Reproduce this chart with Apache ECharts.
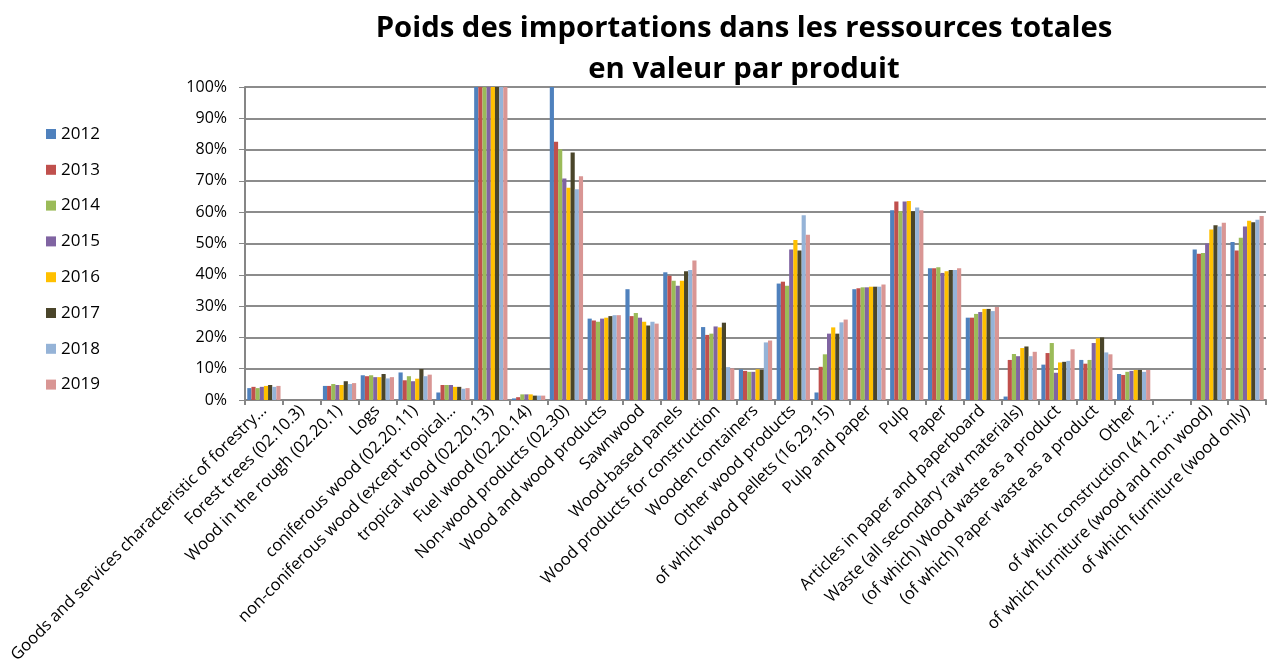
<!DOCTYPE html>
<html>
<head>
<meta charset="utf-8">
<script src="https://cdn.jsdelivr.net/npm/echarts@6/dist/echarts.min.js"></script>
<style>
    html, body { margin: 0; padding: 0; background: #fff; }
    #chart { width: 1269px; height: 670px; }
</style>
</head>
<body>
<div id="chart"></div>
<script>
// catégories (produits)
const categories = [
    'Goods and services characteristic of forestry…',
    'Forest trees (02.10.3)',
    'Wood in the rough (02.20.1)',
    'Logs',
    'coniferous wood (02.20.11)',
    'non-coniferous wood (except tropical…',
    'tropical wood (02.20.13)',
    'Fuel wood (02.20.14)',
    'Non-wood products (02.30)',
    'Wood and wood products',
    'Sawnwood',
    'Wood-based panels',
    'Wood products for construction',
    'Wooden containers',
    'Other wood products',
    'of which wood pellets (16.29.15)',
    'Pulp and paper',
    'Pulp',
    'Paper',
    'Articles in paper and paperboard',
    'Waste (all secondary raw materials)',
    '(of which) Wood waste as a product',
    '(of which) Paper waste as a product',
    'Other',
    'of which construction (41.2 ;…',
    'of which furniture (wood and non wood)',
    'of which furniture (wood only)'
];

const years = ['2012', '2013', '2014', '2015', '2016', '2017', '2018', '2019'];
const colors = ['#4F81BD', '#C0504D', '#9BBB59', '#8064A2', '#FFC000', '#4A452A', '#95B3D7', '#D99694'];

// poids des importations (%) par année
const v2012 = [3.8, null, 4.5, 7.9, 8.8, 2.4, 100, 0.5, 100, 26.0, 35.4, 40.8, 23.3, 9.8, 37.2, 2.4, 35.4, 60.6, 42.1, 26.3, 1.1, 11.3, 12.8, 8.3, null, 48.1, 50.5];
const v2013 = [4.2, null, 4.5, 7.6, 6.3, 4.8, 100, 0.9, 82.5, 25.4, 26.8, 39.7, 20.8, 9.3, 37.8, 10.6, 35.7, 63.4, 42.1, 26.3, 12.8, 15.0, 11.6, 8.0, null, 46.7, 47.8];
const v2014 = [3.8, null, 5.1, 7.9, 7.6, 4.8, 100, 1.8, 80.1, 25.0, 27.8, 38.1, 21.2, 9.0, 36.5, 14.6, 36.0, 60.3, 42.4, 27.5, 14.7, 18.2, 12.8, 9.0, null, 47.0, 51.8];
const v2015 = [4.2, null, 4.8, 7.3, 6.0, 4.8, 100, 1.8, 70.8, 26.0, 26.3, 36.5, 23.5, 9.0, 48.1, 21.2, 36.0, 63.4, 40.6, 28.1, 14.0, 8.7, 18.2, 9.3, null, 50.0, 55.4];
const v2016 = [4.5, null, 4.8, 7.3, 6.8, 4.2, 100, 1.8, 67.8, 26.3, 25.0, 38.1, 23.2, 9.8, 51.1, 23.2, 36.2, 63.6, 41.1, 29.1, 16.6, 12.0, 19.7, 9.6, null, 54.5, 57.3];
const v2017 = [4.8, null, 6.0, 8.3, 9.9, 4.2, 100, 1.4, 79.1, 26.8, 23.8, 41.1, 24.7, 9.6, 47.8, 21.2, 36.2, 60.3, 41.5, 29.1, 17.1, 12.2, 20.0, 9.6, null, 55.8, 56.8];
const v2018 = [4.2, null, 5.1, 6.9, 7.6, 3.6, 100, 1.4, 67.3, 27.1, 25.0, 41.5, 10.5, 18.4, 59.0, 24.8, 36.2, 61.5, 41.5, 28.4, 14.0, 12.5, 15.2, 9.0, null, 55.4, 57.6];
const v2019 = [4.5, null, 5.4, 7.3, 8.1, 3.8, 100, 1.4, 71.5, 27.1, 24.4, 44.6, 10.1, 19.0, 52.8, 25.7, 36.9, 60.6, 42.1, 29.7, 15.4, 16.2, 14.6, 9.6, null, 56.6, 58.8];

const values = [v2012, v2013, v2014, v2015, v2016, v2017, v2018, v2019];
const font = '"Open Sans", Lato, sans-serif';

const chart = echarts.init(document.getElementById('chart'), null, { renderer: 'canvas' });

const option = {
    animation: false,
    color: colors,
    textStyle: { fontFamily: font },
    title: {
        text: 'Poids des importations dans les ressources totales\nen valeur par produit',
        left: 739,
        top: 3,
        textAlign: 'center',
        textStyle: {
            fontFamily: font,
            fontSize: 29.3,
            fontWeight: 'bold',
            color: '#000',
            lineHeight: 41,
            align: 'center'
        }
    },
    legend: {
        orient: 'vertical',
        left: 41,
        top: 120,
        itemWidth: 10,
        itemHeight: 10,
        itemGap: 17.8,
        icon: 'rect',
        data: years,
        textStyle: { fontFamily: font, fontSize: 17, color: '#000', lineHeight: 18 }
    },
    grid: {
        left: 245,
        right: 3,
        top: 87,
        bottom: 270,
        containLabel: false
    },
    xAxis: {
        type: 'category',
        data: categories,
        axisLine: { lineStyle: { color: '#868686', width: 2 } },
        axisTick: { show: true, length: 5, lineStyle: { color: '#868686', width: 2 } },
        axisLabel: {
            interval: 0,
            rotate: 45,
            fontFamily: font,
            fontSize: 16.5,
            color: '#000',
            margin: 8
        }
    },
    yAxis: {
        type: 'value',
        min: 0,
        max: 100,
        interval: 10,
        axisLine: { show: true, lineStyle: { color: '#868686', width: 2 } },
        axisTick: { show: true, length: 6, lineStyle: { color: '#868686', width: 1 } },
        splitLine: { lineStyle: { color: '#8c8c8c', width: 2 } },
        axisLabel: {
            formatter: '{value}%',
            fontFamily: font,
            fontSize: 16,
            color: '#000',
            margin: 18
        }
    },
    series: years.map((y, i) => ({
        name: y,
        type: 'bar',
        data: values[i],
        barGap: '0%',
        barCategoryGap: '12%',
        itemStyle: { color: colors[i] }
    }))
};

chart.setOption(option);
</script>
</body>
</html>
